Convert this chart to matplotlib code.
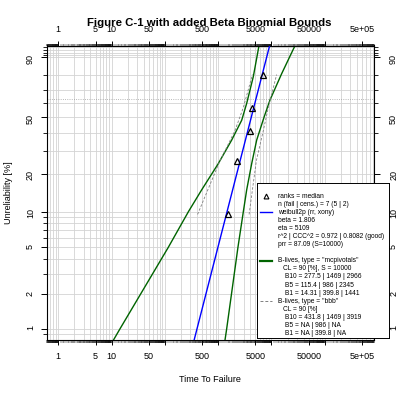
import numpy as np
import matplotlib
matplotlib.use('Agg')
import matplotlib.pyplot as plt
from matplotlib.ticker import NullFormatter
from matplotlib.transforms import ScaledTranslation

plt.rcParams['font.family'] = ['Liberation Sans', 'DejaVu Sans']

# failure data with median ranks (Johnson adjusted, 2 suspensions)
fail_times = [1500, 2250, 4000, 4300, 7000]
median_ranks = [0.0946, 0.2523, 0.4099, 0.5676, 0.8041]

# weibull2p fit: line through B10 and eta (63.2%)
fit_t = [1469, 5109]
fit_F = [0.10, 0.632]

mcp_lower_t = [10.8, 14.31, 115.4, 277.5, 490, 1004, 1792, 2761, 3425, 4555, 5900]
mcp_lower_F = [0.008, 0.01, 0.05, 0.10, 0.15, 0.24, 0.356, 0.48, 0.60, 0.79, 0.95]
mcp_upper_t = [1341, 1441, 2345, 2966, 3425, 4250, 5277, 7300, 9380, 15530, 28500]
mcp_upper_F = [0.008, 0.01, 0.05, 0.10, 0.15, 0.24, 0.356, 0.504, 0.625, 0.81, 0.95]

# beta binomial bounds at the ranks
bbb_lower_t = [410, 1080, 2050, 2950, 4400]
bbb_upper_t = [3800, 5200, 7000, 8700, 12500]

x_ticks = [1, 5, 10, 50, 100, 500, 1000, 5000, 1e4, 5e4, 1e5, 5e5]
x_labels = ['1', '5', '10', '50', '', '500', '', '5000', '', '50000', '', '5e+05']
y_ticks = [0.01, 0.02, 0.05, 0.10, 0.20, 0.50, 0.90]
y_labels = ['1', '2', '5', '10', '20', '50', '90']
y_minor = [0.009, 0.03, 0.04, 0.06, 0.07, 0.08, 0.09, 0.3, 0.4, 0.6, 0.7, 0.8,
           0.91, 0.92, 0.93, 0.94]

legend_rows = [
    ("ranks = median", 0),
    ("n (fail | cens.) = 7 (5 | 2)", 0),
    ("weibull2p (rr, xony)", 0),
    ("beta = 1.806", 0),
    ("eta = 5109", 0),
    ("r^2 | CCC^2 = 0.972 | 0.8082 (good)", 0),
    ("prr = 87.09 (S=10000)", 0),
    ("", 0),
    ('B-lives, type = "mcpivotals"', 0),
    ("CL = 90 [%], S = 10000", 1),
    ("B10 = 277.5 | 1469 | 2966", 2),
    ("B5 = 115.4 | 986 | 2345", 2),
    ("B1 = 14.31 | 399.8 | 1441", 2),
    ('B-lives, type = "bbb"', 0),
    ("CL = 90 [%]", 1),
    ("B10 = 431.8 | 1469 | 3919", 2),
    ("B5 = NA | 986 | NA", 2),
    ("B1 = NA | 399.8 | NA", 2),
]


def wb_fwd(F):
    F = np.clip(np.asarray(F, dtype=float), 1e-12, 1 - 1e-12)
    return np.log10(-np.log1p(-F))


def wb_inv(v):
    return 1 - np.exp(-10 ** np.asarray(v, dtype=float))


W, H = 398, 398
fig = plt.figure(figsize=(W / 100, H / 100), dpi=100)
L, R, T, B = 46.7, 374.3, 45.5, 339.7
ax = fig.add_axes([L / W, 1 - B / H, (R - L) / W, (B - T) / H])

ax.set_xscale('log')
ax.set_yscale('function', functions=(wb_fwd, wb_inv))
ax.set_xlim(0.606, 8.49e5)
ax.set_ylim(0.00808, 0.9458)

# grid
gx = [k * 10.0 ** d for d in range(-1, 6) for k in range(1, 10)]
gx = [g for g in gx if 0.606 < g < 8.49e5]
gy = y_minor + y_ticks
ax.vlines(gx, 0, 1, transform=ax.get_xaxis_transform(), color='#d3d3d3', lw=0.6, zorder=0)
ax.hlines(gy, 0, 1, transform=ax.get_yaxis_transform(), color='#d3d3d3', lw=0.6, zorder=0)
ax.axhline(0.632, color='#a0a0a0', lw=0.6, ls=':', zorder=0)

# bounds and fit
ax.plot(mcp_lower_t, mcp_lower_F, color='#006400', lw=1.0, zorder=2)
ax.plot(mcp_upper_t, mcp_upper_F, color='#006400', lw=1.0, zorder=2)
ax.plot(bbb_lower_t, median_ranks, color='#808080', lw=0.6, ls=(0, (3, 2)), zorder=2)
ax.plot(bbb_upper_t, median_ranks, color='#808080', lw=0.6, ls=(0, (3, 2)), zorder=2)
ax.axline((fit_t[0], fit_F[0]), (fit_t[1], fit_F[1]), color='#0000ff', lw=1.0, zorder=3)
ax.plot(fail_times, median_ranks, ls='none', marker='^', ms=5, mfc='none',
        mec='black', mew=0.9, zorder=4)

# axes, ticks
minor_x = [round(k, 1) * 10.0 ** d for d in range(-1, 6) for k in np.arange(1.0, 10.0, 0.1)]
minor_x = [m for m in minor_x if 0.606 <= m <= 8.49e5]
ax.set_xticks(x_ticks, x_labels)
ax.set_xticks(minor_x, minor=True)
ax.xaxis.set_minor_formatter(NullFormatter())
ax.set_yticks(y_ticks, y_labels)
ax.set_yticks(y_minor, minor=True)
ax.yaxis.set_minor_formatter(NullFormatter())
ax.tick_params(axis='both', which='both', direction='out', top=True, right=True,
               labeltop=True, labelright=True, labelsize=6.5, color='black')
ax.tick_params(axis='x', which='major', length=3.5, width=0.7, pad=5)
ax.tick_params(axis='x', which='minor', length=1.8, width=0.35)
ax.tick_params(axis='y', which='major', length=4.5, width=0.7, pad=4, labelrotation=90)
ax.tick_params(axis='y', which='minor', length=3, width=0.6)
for s in ax.spines.values():
    s.set_linewidth(0.8)

shift = ScaledTranslation(3 / 100, 0, fig.dpi_scale_trans)
for tk in ax.yaxis.get_major_ticks():
    tk.label2.set_transform(tk.label2.get_transform() + shift)

fig.text(209.7 / W, 1 - 23.5 / H, 'Figure C-1 with added Beta Binomial Bounds',
         ha='center', va='center', fontsize=8.2, fontweight='bold')
fig.text(209.7 / W, 1 - 380 / H, 'Time To Failure', ha='center', va='center', fontsize=6.5)
fig.text(9 / W, 1 - 192.6 / H, 'Unreliability [%]', ha='center', va='center',
         rotation=90, fontsize=6.5)

# legend box
lx0, lx1, ly0, ly1 = 257.3, 388.5, 183.3, 337.5
lax = fig.add_axes([lx0 / W, 1 - ly1 / H, (lx1 - lx0) / W, (ly1 - ly0) / H])
lax.set_xlim(lx0, lx1)
lax.set_ylim(ly1, ly0)
lax.set_xticks([])
lax.set_yticks([])
for s in lax.spines.values():
    s.set_linewidth(0.7)
indent = [277.7, 282.7, 285.0]
for i, (txt, lev) in enumerate(legend_rows):
    lax.text(indent[lev], 196 + i * 8.1, txt, fontsize=4.8, va='center', ha='left')
lax.plot([265.7], [195.5], ls='none', marker='^', ms=3.5, mfc='none', mec='black', mew=0.8)
lax.plot([260, 271.7], [212.2, 212.2], color='#0000ff', lw=1.0)
lax.plot([260, 271.7], [260.8, 260.8], color='#006400', lw=1.6)
lax.plot([260, 271.7], [300.8, 300.8], color='#808080', lw=0.7, ls=(0, (3, 2)))

fig.savefig('out.png', dpi=100)
